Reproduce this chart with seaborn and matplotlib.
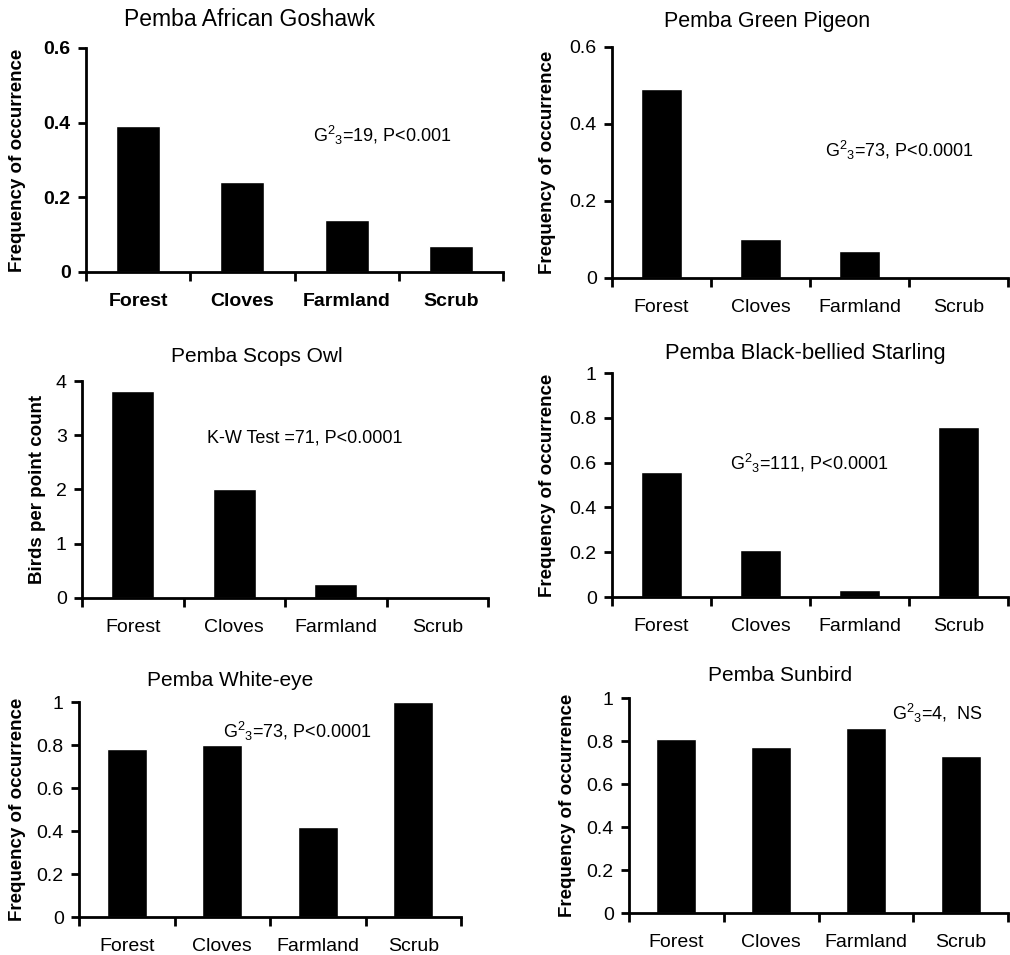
import matplotlib
matplotlib.use("Agg")
import matplotlib.pyplot as plt
import seaborn as sns

sns.set_style("ticks")
plt.rcParams["font.family"] = ["Liberation Sans", "DejaVu Sans"]
plt.rcParams["mathtext.fontset"] = "custom"
plt.rcParams["mathtext.rm"] = "Liberation Sans"
plt.rcParams["mathtext.it"] = "Liberation Sans:italic"
plt.rcParams["mathtext.bf"] = "Liberation Sans:bold"
plt.rcParams["axes.edgecolor"] = "black"
plt.rcParams["xtick.color"] = "black"
plt.rcParams["ytick.color"] = "black"
plt.rcParams["text.color"] = "black"

habitats = ["Forest", "Cloves", "Farmland", "Scrub"]

goshawk = [0.39, 0.24, 0.14, 0.07]
green_pigeon = [0.49, 0.10, 0.07, 0.0]
scops_owl = [3.82, 2.01, 0.25, 0.0]
starling = [0.56, 0.21, 0.03, 0.76]
white_eye = [0.78, 0.80, 0.42, 1.0]
sunbird = [0.81, 0.77, 0.86, 0.73]

freq_ticks = [0, 0.2, 0.4, 0.6]
freq_ticks_1 = [0, 0.2, 0.4, 0.6, 0.8, 1]
count_ticks = [0, 1, 2, 3, 4]

G = r"G$\mathregular{^2}$$\mathregular{_3}$"

W, H = 1010, 955
fig = plt.figure(figsize=(W / 100, H / 100), dpi=100)

# (title, values, yticks, ylabel, stat text, axes px [left, right, top, bottom],
#  title centre px, title size, stat left/centre px, ylabel x px, bold ticks)
panels = [
    ("Pemba African Goshawk", goshawk, freq_ticks, "Frequency of occurrence",
     G + "=19, P<0.001", (86, 503, 48, 272), (250, 20), 16.5, (313, 135), 18, True),
    ("Pemba Green Pigeon", green_pigeon, freq_ticks, "Frequency of occurrence",
     G + "=73, P<0.0001", (612, 1008, 47, 278), (767, 22), 15.5, (825, 150), 548, False),
    ("Pemba Scops Owl", scops_owl, count_ticks, "Birds per point count",
     "K-W Test =71, P<0.0001", (82, 488, 381, 598), (257, 357), 15, (207, 438), 38, False),
    ("Pemba Black-bellied Starling", starling, freq_ticks_1, "Frequency of occurrence",
     G + "=111, P<0.0001", (612, 1008, 373, 597), (805, 353), 15.8, (730, 463), 548, False),
    ("Pemba White-eye", white_eye, freq_ticks_1, "Frequency of occurrence",
     G + "=73, P<0.0001", (79, 461, 702, 917), (230, 680), 15, (223, 731), 18, False),
    ("Pemba Sunbird", sunbird, freq_ticks_1, "Frequency of occurrence",
     G + "=4,  NS", (629, 1008, 698, 913), (780, 675), 15, (892, 713), 568, False),
]

for title, vals, yt, ylab, stat, box, tpos, tsize, spos, ylx, bold in panels:
    l, r, t, b = box
    ax = fig.add_axes([l / W, 1 - b / H, (r - l) / W, (b - t) / H])
    sns.barplot(x=habitats, y=vals, color="black", saturation=1, width=0.42, ax=ax)
    ax.set_xlim(-0.5, 3.5)
    ax.set_ylim(yt[0], yt[-1])
    ax.set_yticks(yt)
    ax.set_yticklabels([f"{v:g}" for v in yt])
    ax.set_xticks([-0.5, 0.5, 1.5, 2.5, 3.5], minor=True)
    ax.tick_params(axis="x", which="major", length=0, pad=15, labelsize=14)
    ax.tick_params(axis="x", which="minor", length=6.5, width=2, direction="out")
    ax.tick_params(axis="y", length=6, width=2, pad=5, labelsize=14)
    ax.set_xlabel("")
    ax.set_ylabel("")
    for s in ["top", "right"]:
        ax.spines[s].set_visible(False)
    for s in ["left", "bottom"]:
        ax.spines[s].set_linewidth(2)
    if bold:
        for lab in ax.get_xticklabels() + ax.get_yticklabels():
            lab.set_fontweight("bold")
    fig.text(tpos[0] / W, 1 - tpos[1] / H, title, ha="center", va="center", fontsize=tsize)
    fig.text(spos[0] / W, 1 - spos[1] / H, stat, ha="left", va="center", fontsize=13)
    fig.text(ylx / W, 1 - (t + b) / 2 / H, ylab, rotation=90, ha="center", va="center",
             fontsize=13.5, fontweight="bold")

fig.savefig("out.png", dpi=100, facecolor="white")
